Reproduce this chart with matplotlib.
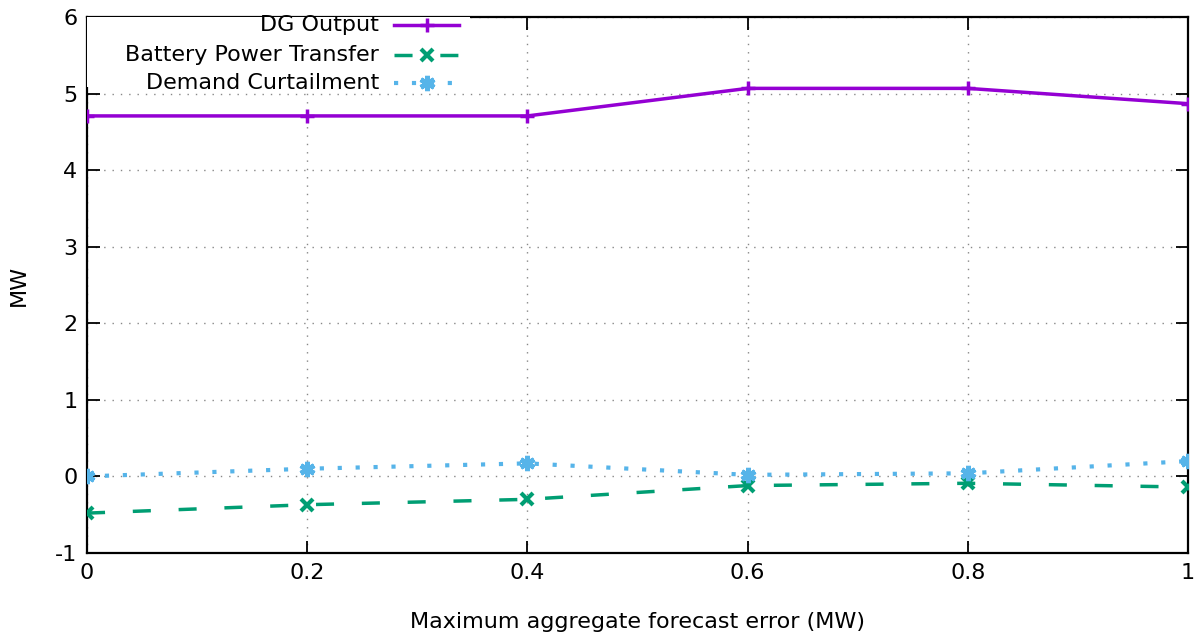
import numpy as np
import matplotlib.pyplot as plt
from matplotlib.patches import Rectangle

# forecast error (MW)
err = [0, 0.2, 0.4, 0.6, 0.8, 1.0]
dg_output = [4.71, 4.71, 4.71, 5.07, 5.07, 4.87]
battery = [-0.48, -0.37, -0.30, -0.12, -0.09, -0.14]
curtail = [0.00, 0.10, 0.17, 0.02, 0.04, 0.20]

labels = ["DG Output", "Battery Power Transfer", "Demand Curtailment"]
colors = ["#9400d3", "#009e73", "#56b4e9"]

plt.rcParams['font.family'] = 'DejaVu Sans'
plt.rcParams['font.size'] = 16
plt.rcParams['axes.unicode_minus'] = False

fig = plt.figure(figsize=(12, 6.37), dpi=100)
ax = fig.add_axes([0.0725, 0.132, 0.9175, 0.841])

styles = [
    dict(ls="-", marker="+", ms=10, mew=2.5, lw=2.5),
    dict(ls=(0, (5.2, 8)), marker="x", ms=9, mew=3, lw=2.5),
    dict(ls=(0, (1, 3.3)), marker=(6, 2, 0), ms=11, mew=3.5, lw=3),
]
series = [dg_output, battery, curtail]

for s, lab, c, st in zip(series, labels, colors, styles):
    ax.plot(err, s, color=c, label=lab, zorder=3, **st)

ax.set_xlim(0, 1)
ax.set_ylim(-1, 6)
ax.set_xticks(err)
ax.set_xticklabels(["0", "0.2", "0.4", "0.6", "0.8", "1"])
ax.set_yticks(range(-1, 7))
ax.tick_params(direction="in", length=9, width=1.3, top=True, right=True, pad=7)
ax.grid(True, color="#888888", ls=(0, (1, 5)), lw=1)
for sp in ax.spines.values():
    sp.set_linewidth(1.6)

ax.set_xlabel("Maximum aggregate forecast error (MW)", labelpad=21)
ax.set_ylabel("MW", labelpad=19)

# key drawn by hand: text right aligned, sample on the right, opaque box
ax.add_patch(Rectangle((0, 0.87), 0.348, 0.13, transform=ax.transAxes,
                       facecolor="white", edgecolor="none", zorder=4))
ys = [0.985, 0.929, 0.877]
for lab, c, st, y in zip(labels, colors, styles, ys):
    ax.text(0.265, y, lab, transform=ax.transAxes, ha="right", va="center", zorder=5)
    ax.plot([0.279, 0.338], [y, y], transform=ax.transAxes, color=c, clip_on=False,
            zorder=5, ls=st["ls"], lw=st["lw"])
    ax.plot([0.3085], [y], transform=ax.transAxes, color=c, clip_on=False, zorder=5,
            marker=st["marker"], ms=st["ms"], mew=st["mew"], ls="none")

fig.savefig("out.png", dpi=100)
